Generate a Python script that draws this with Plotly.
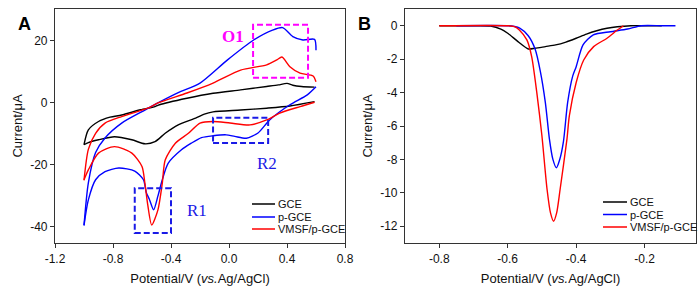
import plotly.graph_objects as go

# ---------------- Panel A: CV data (anodic sweep, then cathodic sweep) ----------------
gce_an_x = [-1.0, -0.97, -0.9, -0.82, -0.74, -0.61, -0.51, -0.48, -0.29, -0.11, 0.08, 0.26, 0.34, 0.4, 0.44, 0.5, 0.59]
gce_an_y = [-13.5, -8.7, -6.0, -4.6, -3.9, -2.2, -1.2, -0.6, 1.5, 3.1, 4.2, 5.3, 5.8, 6.3, 5.7, 5.3, 5.1]
gce_ca_x = [0.59, 0.42, 0.26, 0.08, -0.11, -0.17, -0.23, -0.35, -0.44, -0.51, -0.58, -0.67, -0.79, -0.9, -0.97, -1.0]
gce_ca_y = [0.4, -1.0, -1.7, -2.3, -2.9, -3.6, -4.9, -7.1, -9.8, -12.5, -13.2, -11.9, -10.9, -11.9, -12.8, -13.5]

p_an_x = [-1.0, -0.97, -0.92, -0.855, -0.74, -0.58, -0.49, -0.35, -0.2, -0.01, 0.17, 0.3, 0.37, 0.44, 0.51, 0.59, 0.6]
p_an_y = [-39.5, -25.8, -16.0, -11.3, -6.5, -2.3, 0.0, 3.3, 6.4, 13.9, 20.3, 23.5, 24.3, 21.4, 20.3, 20.5, 17.0]
p_ca_x = [0.6, 0.54, 0.42, 0.28, 0.2, 0.12, 0.04, -0.02, -0.11, -0.19, -0.26, -0.33, -0.42, -0.46, -0.49, -0.52,
          -0.55, -0.57, -0.59, -0.65, -0.76, -0.855, -0.92, -0.97, -1.0]
p_ca_y = [5.2, 2.6, -0.6, -5.5, -9.7, -11.4, -10.8, -10.3, -10.6, -11.2, -13.0, -15.2, -19.5, -24.8, -30.0, -34.5,
          -31.0, -29.0, -24.8, -22.0, -21.0, -22.2, -24.8, -31.3, -39.5]

v_an_x = [-1.0, -0.97, -0.92, -0.855, -0.74, -0.56, -0.49, -0.29, -0.11, 0.08, 0.26, 0.33, 0.365, 0.42, 0.49, 0.58, 0.6]
v_an_y = [-25.0, -15.0, -9.8, -6.5, -4.4, -1.7, 0.0, 3.2, 6.4, 10.6, 12.3, 13.9, 14.8, 11.7, 9.6, 8.7, 6.8]
v_ca_x = [0.59, 0.49, 0.35, 0.26, 0.145, 0.007, -0.11, -0.2, -0.28, -0.37, -0.44, -0.46, -0.49, -0.533, -0.56,
          -0.58, -0.6, -0.67, -0.79, -0.9, -0.97, -1.0]
v_ca_y = [0.2, -1.2, -3.3, -5.5, -7.1, -6.5, -6.0, -6.5, -9.8, -13.0, -18.4, -25.9, -34.5, -39.4, -33.0,
          -25.9, -20.5, -16.2, -14.1, -16.2, -21.6, -24.8]

# ---------------- Panel B: DPV data ----------------
dpv_gce_x = [-0.8, -0.7, -0.65, -0.62, -0.6, -0.57, -0.54, -0.52, -0.49, -0.46, -0.43, -0.4, -0.37, -0.34, -0.31,
             -0.28, -0.24, -0.2, -0.15]
dpv_gce_y = [0, 0, -0.02, -0.2, -0.45, -0.95, -1.39, -1.35, -1.25, -1.15, -0.98, -0.75, -0.5, -0.3, -0.15,
             -0.06, 0, 0, 0]
dpv_p_x = [-0.75, -0.6, -0.58, -0.565, -0.54, -0.52, -0.505, -0.49, -0.478, -0.468, -0.458, -0.448, -0.437, -0.425,
           -0.41, -0.4, -0.38, -0.35, -0.3, -0.25, -0.21, -0.15, -0.11]
dpv_p_y = [0, 0, -0.05, -0.15, -0.6, -1.4, -2.7, -4.6, -6.8, -8.0, -8.5, -8.0, -6.9, -4.6,
           -3.0, -2.45, -1.15, -0.55, -0.36, -0.2, 0, 0, 0]
dpv_v_x = [-0.8, -0.6, -0.58, -0.566, -0.544, -0.53, -0.515, -0.5, -0.485, -0.475, -0.466, -0.457, -0.447, -0.427,
           -0.42, -0.4, -0.378, -0.349, -0.31, -0.28, -0.262]
dpv_v_y = [0, 0, -0.05, -0.25, -0.85, -1.85, -4.0, -6.6, -9.8, -11.2, -11.7, -11.2, -9.8, -6.8,
           -5.4, -3.4, -2.05, -1.25, -0.75, -0.26, 0]

names = ["GCE", "p-GCE", "VMSF/p-GCE"]
colors = ["#000000", "#0000ff", "#ff0000"]

ax_a_ticks = [-1.2, -0.8, -0.4, 0.0, 0.4, 0.8]
ax_a_text = ["-1.2", "-0.8", "-0.4", "0.0", "0.4", "0.8"]
ay_a_ticks = [-40, -20, 0, 20]
ay_a_text = ["-40", "-20", "0", "20"]
bx_ticks = [-0.8, -0.6, -0.4, -0.2]
bx_text = ["-0.8", "-0.6", "-0.4", "-0.2"]
by_ticks = [0, -2, -4, -6, -8, -10, -12]
by_text = ["0", "-2", "-4", "-6", "-8", "-10", "-12"]

FONT = "Liberation Sans, Arial, sans-serif"
SERIF = "Liberation Serif, Times New Roman, serif"

W, H = 699, 291
ML, MR, MT, MB = 55, 3, 9, 48
PW, PH = W - ML - MR, H - MT - MB


def px_x(p):
    return (p - ML) / PW


def px_y(p):
    return 1 - (p - MT) / PH


fig = go.Figure()

cv = [(gce_an_x, gce_an_y, gce_ca_x, gce_ca_y), (p_an_x, p_an_y, p_ca_x, p_ca_y), (v_an_x, v_an_y, v_ca_x, v_ca_y)]
for (ax_, ay_, cx_, cy_), n, c in zip(cv, names, colors):
    fig.add_trace(go.Scatter(x=ax_ + [None] + cx_, y=ay_ + [None] + cy_, mode="lines", name=n,
                             line=dict(color=c, width=1.4, shape="spline", smoothing=0.7),
                             xaxis="x", yaxis="y", showlegend=False))

dpv = [(dpv_gce_x, dpv_gce_y), (dpv_p_x, dpv_p_y), (dpv_v_x, dpv_v_y)]
for (x_, y_), n, c in zip(dpv, names, colors):
    fig.add_trace(go.Scatter(x=x_, y=y_, mode="lines", name=n,
                             line=dict(color=c, width=1.4, shape="spline", smoothing=0.7),
                             xaxis="x2", yaxis="y2", showlegend=False))

axis_common = dict(showline=True, linecolor="#333333", linewidth=1.2, mirror=True, ticks="outside",
                   ticklen=4, tickcolor="#333333", tickwidth=1.2, showgrid=False, zeroline=False,
                   automargin=False, tickfont=dict(family=FONT, size=12, color="#111111"))
title_font = dict(family=FONT, size=13, color="#111111")

fig.update_layout(
    width=W, height=H, margin=dict(l=ML, r=MR, t=MT, b=MB),
    paper_bgcolor="white", plot_bgcolor="white", showlegend=False,
    xaxis=dict(domain=[0, px_x(345)], range=[-1.2, 0.8], tickvals=ax_a_ticks, ticktext=ax_a_text,
               title=dict(text="Potential/V (<i>vs.</i>Ag/AgCl)", font=title_font, standoff=9),
               anchor="y", **axis_common),
    yaxis=dict(domain=[0, 1], range=[-45.2, 30.3], tickvals=ay_a_ticks, ticktext=ay_a_text,
               title=dict(text="Current/μA", font=title_font, standoff=4), anchor="x", **axis_common),
    xaxis2=dict(domain=[px_x(405), 1], range=[-0.9, -0.05], tickvals=bx_ticks, ticktext=bx_text,
                title=dict(text="Potential/V (<i>vs.</i>Ag/AgCl)", font=title_font, standoff=9),
                anchor="y2", **axis_common),
    yaxis2=dict(domain=[0, 1], range=[-13, 1], tickvals=by_ticks, ticktext=by_text,
                title=dict(text="Current/μA", font=title_font, standoff=4), anchor="x2", **axis_common),
)

# dashed highlight boxes (panel A)
box_blue = "#1a1ae6"
fig.add_shape(type="rect", xref="x", yref="y", x0=0.166, x1=0.545, y0=8.1, y1=25.2,
              line=dict(color="#ff00ff", width=2, dash="6px,3px"))
fig.add_shape(type="rect", xref="x", yref="y", x0=-0.11, x1=0.27, y0=-12.9, y1=-4.8,
              line=dict(color=box_blue, width=2, dash="6px,3px"))
fig.add_shape(type="rect", xref="x", yref="y", x0=-0.65, x1=-0.4, y0=-42.0, y1=-27.5,
              line=dict(color=box_blue, width=2, dash="6px,3px"))

fig.add_annotation(x=0.03, y=21.3, xref="x", yref="y", text="<b>O1</b>", showarrow=False,
                   font=dict(family=SERIF, size=17, color="#ff00ff"))
fig.add_annotation(x=0.26, y=-19.4, xref="x", yref="y", text="R2", showarrow=False,
                   font=dict(family=SERIF, size=17, color=box_blue))
fig.add_annotation(x=-0.22, y=-34.7, xref="x", yref="y", text="R1", showarrow=False,
                   font=dict(family=SERIF, size=17, color=box_blue))

# legends (line swatch + label), one per panel
leg_rows_a = [204, 217, 229]
leg_rows_b = [202, 214.5, 227]
for (x0, x1, rows) in [(252, 275, leg_rows_a), (603, 627, leg_rows_b)]:
    for n, c, r in zip(names, colors, rows):
        fig.add_shape(type="line", xref="paper", yref="paper", x0=px_x(x0), x1=px_x(x1),
                      y0=px_y(r), y1=px_y(r), line=dict(color=c, width=1.5))
        fig.add_annotation(x=px_x(x1 + 1), y=px_y(r), xref="paper", yref="paper", text=n,
                           showarrow=False, xanchor="left", yanchor="middle",
                           font=dict(family=FONT, size=11, color="#111111"))

# panel labels
fig.add_annotation(x=px_x(16), y=px_y(12), xref="paper", yref="paper", text="<b>A</b>", showarrow=False,
                   font=dict(family=FONT, size=18, color="#000000"))
fig.add_annotation(x=px_x(364), y=px_y(12), xref="paper", yref="paper", text="<b>B</b>", showarrow=False,
                   font=dict(family=FONT, size=18, color="#000000"))

fig.write_html("out.html", config={"displayModeBar": False},
               post_script="document.body.style.margin='0px';document.body.style.overflow='hidden';")
